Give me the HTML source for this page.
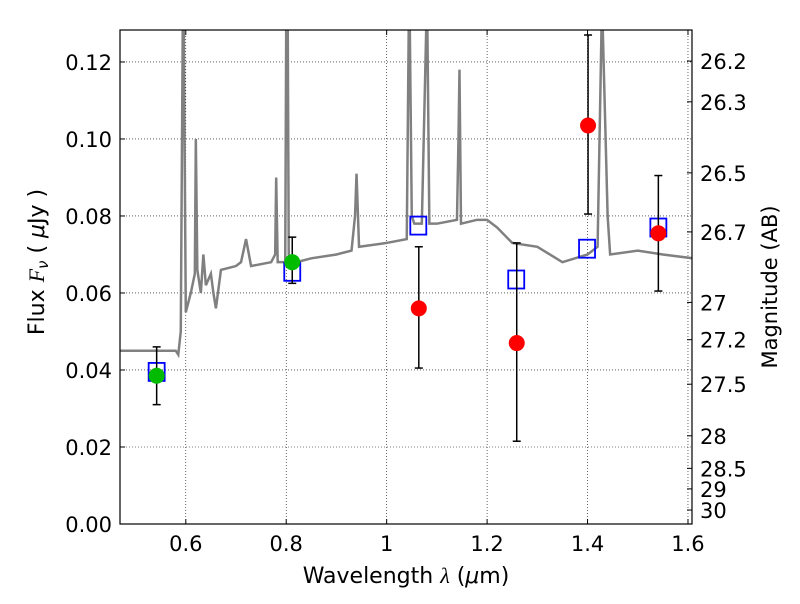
<!DOCTYPE html>
<html><head><meta charset="utf-8"><style>
body{margin:0;background:#fff;font-family:"DejaVu Sans","Liberation Sans",sans-serif;}
svg text{font-family:"DejaVu Sans","Liberation Sans",sans-serif;}
</style></head><body>
<svg id="chart" width="800" height="600" xmlns="http://www.w3.org/2000/svg"></svg>
<script>
const specWave=[0.47,0.58,0.585,0.59,0.594,0.596,0.60,0.61,0.618,0.62,0.623,0.63,0.635,0.64,0.65,0.655,0.66,0.67,0.70,0.71,0.72,0.73,0.77,0.778,0.78,0.783,0.798,0.80,0.803,0.805,0.82,0.85,0.90,0.93,0.937,0.94,0.945,1.0,1.04,1.044,1.046,1.05,1.055,1.07,1.079,1.081,1.085,1.1,1.14,1.143,1.145,1.148,1.18,1.2,1.22,1.25,1.3,1.35,1.4,1.42,1.428,1.43,1.44,1.445,1.5,1.55,1.61];
const specFlux=[0.045,0.045,0.044,0.05,0.13,0.13,0.055,0.06,0.065,0.1,0.066,0.06,0.07,0.062,0.065,0.06,0.056,0.066,0.067,0.068,0.074,0.067,0.068,0.07,0.09,0.068,0.068,0.13,0.13,0.07,0.068,0.069,0.07,0.071,0.08,0.091,0.072,0.073,0.074,0.13,0.13,0.08,0.078,0.078,0.13,0.13,0.078,0.078,0.079,0.1,0.118,0.078,0.079,0.079,0.077,0.073,0.072,0.068,0.070,0.072,0.13,0.13,0.08,0.070,0.071,0.07,0.069];
const sqWave=[0.542,0.812,1.063,1.258,1.399,1.541];
const sqFlux=[0.0395,0.0655,0.0775,0.0635,0.0715,0.077];
const gWave=[0.542,0.812];
const gFlux=[0.0385,0.068];
const gLo=[0.031,0.0625];
const gHi=[0.046,0.0745];
const rWave=[1.064,1.259,1.401,1.541];
const rFlux=[0.056,0.047,0.1035,0.0755];
const rLo=[0.0405,0.0215,0.0805,0.0605];
const rHi=[0.072,0.073,0.127,0.0905];
const xTicks=[0.6,0.8,1.0,1.2,1.4,1.6];
const xTickLabels=["0.6","0.8","1","1.2","1.4","1.6"];
const yTicks=[0,0.02,0.04,0.06,0.08,0.10,0.12];
const yTickLabels=["0.00","0.02","0.04","0.06","0.08","0.10","0.12"];
const magTicks=[26.2,26.3,26.5,26.7,27,27.2,27.5,28,28.5,29,30];
const magTickLabels=["26.2","26.3","26.5","26.7","27","27.2","27.5","28","28.5","29","30"];

const L=120,R=692,T=30,B=524,X0=0.469,X1=1.608,Y0=0,Y1=0.1283;
const sx=v=>L+(v-X0)/(X1-X0)*(R-L);
const sy=v=>B-(v-Y0)/(Y1-Y0)*(B-T);
const svg=document.getElementById('chart');
const NS='http://www.w3.org/2000/svg';
function mk(tag,attrs,parent){const e=document.createElementNS(NS,tag);for(const k in attrs)e.setAttribute(k,attrs[k]);(parent||svg).appendChild(e);return e;}
const defs=mk('defs',{});const cp=mk('clipPath',{id:'clip'},defs);mk('rect',{x:L,y:T,width:R-L,height:B-T},cp);
const grid=mk('g',{});


xTicks.forEach((v,i)=>{
  mk('line',{x1:sx(v),x2:sx(v),y1:T,y2:B,stroke:'#000','stroke-width':0.6,'stroke-dasharray':'1,2'},grid);
  mk('line',{x1:sx(v),x2:sx(v),y1:B,y2:B-5,stroke:'#000'},grid);
  mk('line',{x1:sx(v),x2:sx(v),y1:T,y2:T+5,stroke:'#000'},grid);
  const t=mk('text',{x:sx(v),y:B+27,'text-anchor':'middle','font-size':21});
  t.textContent=xTickLabels[i];
  
  
});
yTicks.forEach((v,i)=>{
  mk('line',{x1:L,x2:R,y1:sy(v),y2:sy(v),stroke:'#000','stroke-width':0.6,'stroke-dasharray':'1,2'},grid);
  mk('line',{x1:L,x2:L+5,y1:sy(v),y2:sy(v),stroke:'#000'},grid);
  const t=mk('text',{x:L-8,y:sy(v)+8,'text-anchor':'end','font-size':21});
  t.textContent=yTickLabels[i];
  
  
});
magTicks.forEach((m,i)=>{
  const f=Math.pow(10,(23.9-m)/2.5);const y=sy(f);
  mk('line',{x1:R-5,x2:R,y1:y,y2:y,stroke:'#000'});
  const t=mk('text',{x:R+8,y:y+8,'font-size':21});
  t.textContent=magTickLabels[i];
  
  
});
const spec=mk('polyline',{points:specWave.map((w,i)=>sx(w)+','+sy(specFlux[i])).join(' '),fill:'none',stroke:'#808080','stroke-width':2.5,'clip-path':'url(#clip)'});


sqWave.forEach((w,i)=>{
  const r=mk('rect',{x:sx(w)-8,y:sy(sqFlux[i])-9,width:16,height:18,fill:'none',stroke:'#0000ff','stroke-width':1.8});
  
  
});
function pts(W,F,Lo,Hi,col,name){W.forEach((w,i)=>{
  const x=sx(w);
  mk('line',{x1:x,x2:x,y1:sy(Lo[i]),y2:sy(Hi[i]),stroke:'#000','stroke-width':1.5});
  mk('line',{x1:x-4,x2:x+4,y1:sy(Lo[i]),y2:sy(Lo[i]),stroke:'#000','stroke-width':1.5});
  mk('line',{x1:x-4,x2:x+4,y1:sy(Hi[i]),y2:sy(Hi[i]),stroke:'#000','stroke-width':1.5});
  const c=mk('circle',{cx:x,cy:sy(F[i]),r:8,fill:col});
  
  
});}
pts(gWave,gFlux,gLo,gHi,'#00bb00','green-point');
pts(rWave,rFlux,rLo,rHi,'#ff0000','red-point');
const frame=mk('rect',{x:L,y:T,width:R-L,height:B-T,fill:'none',stroke:'#000','stroke-width':1.2});


const xl=mk('text',{x:406,y:583,'text-anchor':'middle','font-size':22});
xl.innerHTML='Wavelength  <tspan font-style="italic" font-family="Liberation Serif">λ</tspan> (<tspan font-style="italic">μ</tspan>m)';


const yl=mk('text',{x:44,y:262,'text-anchor':'middle','font-size':22,transform:'rotate(-90 44 262)'});
yl.innerHTML='Flux  <tspan font-style="italic" font-family="Liberation Serif">F</tspan><tspan font-style="italic" font-size="15" dy="4">ν</tspan><tspan dy="-4">  ( </tspan><tspan font-style="italic">μ</tspan>Jy )';


const ml=mk('text',{x:777,y:287,'text-anchor':'middle','font-size':21,transform:'rotate(-90 777 287)'});
ml.textContent='Magnitude (AB)';


</script>
</body></html>
